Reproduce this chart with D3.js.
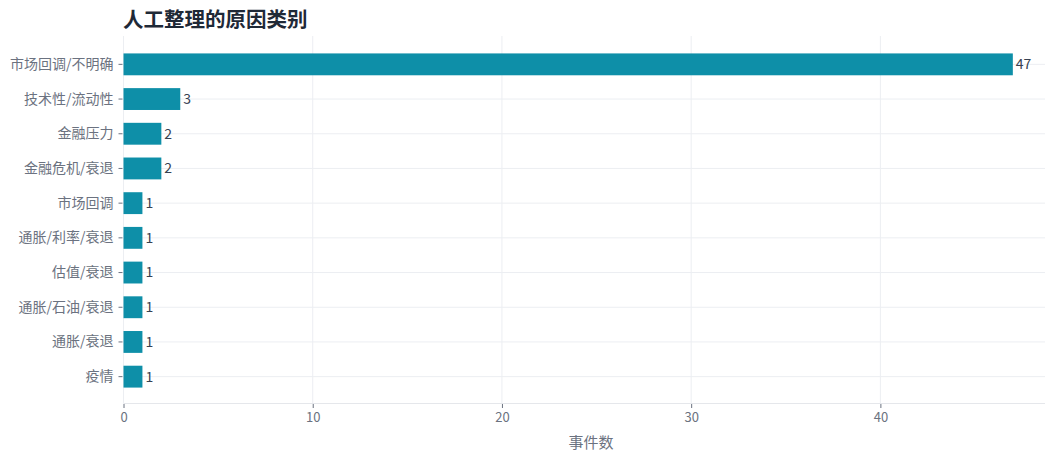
<!DOCTYPE html>
<html>
<head>
<meta charset="utf-8">
<script src="https://cdn.jsdelivr.net/npm/d3@7"></script>
<style>
  html, body { margin: 0; padding: 0; background: #fff; }
  svg { display: block; font-family: "Noto Sans CJK SC", "Noto Sans", sans-serif; }
</style>
</head>
<body>
<svg id="chart" width="1045" height="454"></svg>
<script>
// Reason categories (top to bottom) and event counts
const categories = ["市场回调/不明确", "技术性/流动性", "金融压力", "金融危机/衰退", "市场回调",
                    "通胀/利率/衰退", "估值/衰退", "通胀/石油/衰退", "通胀/衰退", "疫情"];
const counts = [47, 3, 2, 2, 1, 1, 1, 1, 1, 1];
const xTicks = [0, 10, 20, 30, 40];
const titleText = "人工整理的原因类别";
const xLabel = "事件数";

const W = 1045, H = 454;
const plot = { left: 123.5, right: 1045, top: 36, bottom: 403 };

const svg = d3.select("#chart");

const x = d3.scaleLinear().domain([0, 48.7]).range([plot.left, plot.right]);
const y = d3.scaleBand().domain(categories).range([47, 394]).paddingInner(0.37).paddingOuter(0.185);

// Vertical grid
svg.append("g").selectAll("line").data(xTicks).join("line")
  .attr("x1", d => x(d)).attr("x2", d => x(d))
  .attr("y1", plot.top).attr("y2", plot.bottom)
  .attr("stroke", "#eceef2").attr("stroke-width", 1);

// Horizontal grid at category centres
svg.append("g").selectAll("line").data(categories).join("line")
  .attr("x1", plot.left).attr("x2", plot.right)
  .attr("y1", d => y(d) + y.bandwidth() / 2).attr("y2", d => y(d) + y.bandwidth() / 2)
  .attr("stroke", "#eceef2").attr("stroke-width", 1);

// Bars
svg.append("g").selectAll("rect").data(categories).join("rect")
  .attr("x", x(0))
  .attr("y", d => y(d))
  .attr("width", (d, i) => x(counts[i]) - x(0))
  .attr("height", y.bandwidth())
  .attr("fill", "#0e8fa8");

// Value labels
svg.append("g").selectAll("text").data(categories).join("text")
  .attr("x", (d, i) => x(counts[i]) + 3)
  .attr("y", d => y(d) + y.bandwidth() / 2)
  .attr("dy", "0.35em")
  .attr("font-size", 14)
  .attr("fill", "#374151")
  .text((d, i) => counts[i]);

// Bottom axis baseline
svg.append("line")
  .attr("x1", plot.left).attr("x2", plot.right)
  .attr("y1", plot.bottom + 0.5).attr("y2", plot.bottom + 0.5)
  .attr("stroke", "#e5e7eb");

// X axis
const xAxis = svg.append("g")
  .attr("transform", `translate(0,${plot.bottom + 1})`)
  .call(d3.axisBottom(x).tickValues(xTicks).tickSize(4).tickPadding(5));
xAxis.select(".domain").remove();
xAxis.selectAll("line").attr("stroke", "#6b7280");
xAxis.selectAll("text").attr("fill", "#6b7280").attr("font-size", 13)
  .attr("font-family", "'Noto Sans CJK SC', 'Noto Sans', sans-serif");

// Y axis
const yAxis = svg.append("g")
  .attr("transform", `translate(${plot.left - 1},0)`)
  .call(d3.axisLeft(y).tickSize(4).tickPadding(5));
yAxis.select(".domain").remove();
yAxis.selectAll("line").attr("stroke", "#6b7280");
yAxis.selectAll("text").attr("fill", "#6b7280").attr("font-size", 14)
  .attr("font-family", "'Noto Sans CJK SC', 'Noto Sans', sans-serif");

// Axis title
svg.append("text")
  .attr("x", 591)
  .attr("y", 448)
  .attr("text-anchor", "middle")
  .attr("font-size", 15)
  .attr("fill", "#6b7280")
  .text(xLabel);

// Chart title
svg.append("text")
  .attr("x", 123)
  .attr("y", 27)
  .attr("font-size", 20.5)
  .attr("font-weight", "bold")
  .attr("fill", "#1f2937")
  .text(titleText);
</script>
</body>
</html>
